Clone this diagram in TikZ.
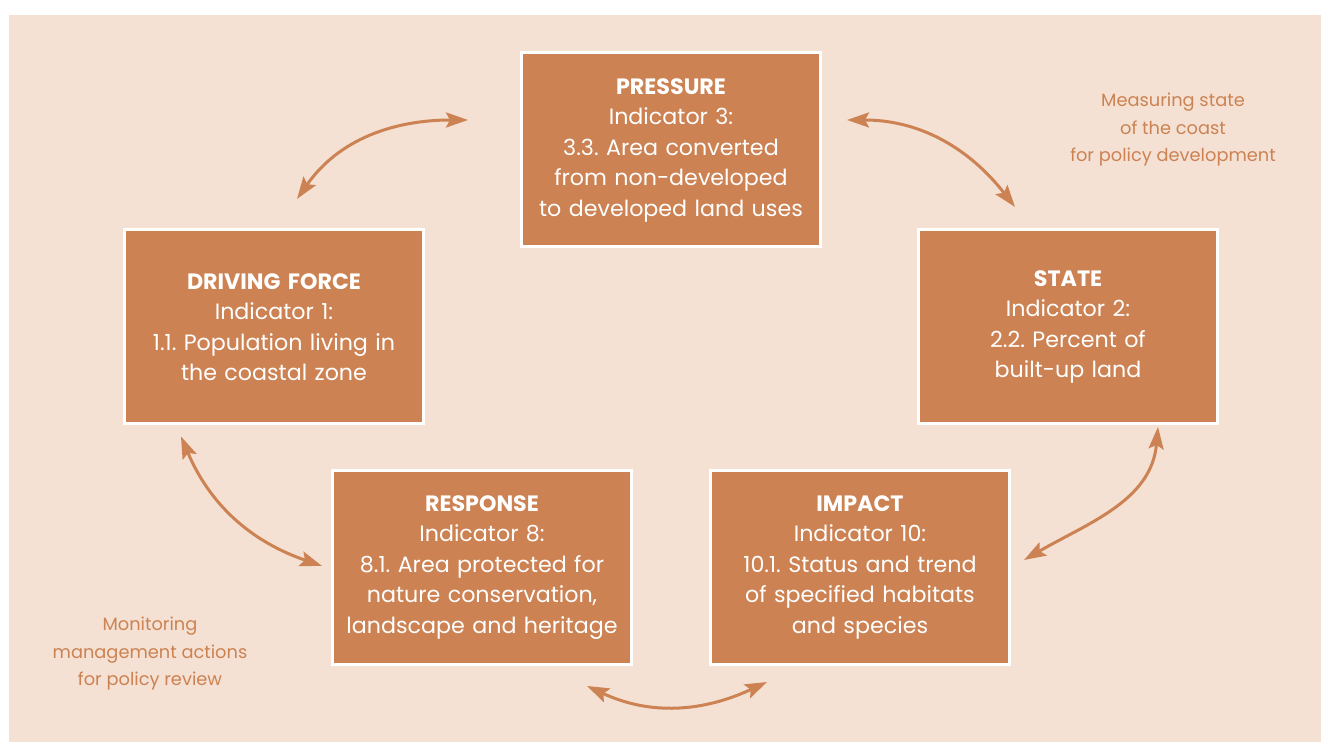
\documentclass[tikz,border=0pt]{standalone}
\usepackage{fontspec}
\setmainfont{Poppins}
\usetikzlibrary{positioning,arrows.meta}
\definecolor{clay}{RGB}{204,130,82}
\definecolor{sand}{RGB}{244,225,211}
\frenchspacing

\begin{document}
\begin{tikzpicture}[x=0.5pt,y=0.5pt]
        % Define styles for nodes and edges
        \tikzstyle{dpsir} = [rectangle, draw=white, line width=1.5pt, fill=clay, text=white, text width=149pt, align=center, minimum width=149.5pt, minimum height=97pt, inner sep=0pt, font=\fontsize{11.1}{15.25}\selectfont]
        \tikzstyle{remark} = [text=clay, align=center, font=\fontsize{8.9}{13.75}\selectfont]
        \tikzstyle{cyclearrow} = [draw=clay, line width=1.5pt, <->, >={Stealth[length=11pt,width=7.5pt,inset=2pt]}]

        % Background
        \useasboundingbox (0,0) rectangle (1321,742);
        \fill[sand] (9,0) rectangle (1321,727);

        % Nodes
        \node[dpsir] (pressure) at (671,592) {{\bfseries PRESSURE}\\Indicator 3:\\3.3. Area converted\\from non-developed\\to developed land uses};
        \node[dpsir] (driving) at (274,415) {{\bfseries DRIVING FORCE}\\Indicator 1:\\1.1. Population living in\\the coastal zone};
        \node[dpsir, right of=driving, node distance=397pt] (state) {{\bfseries STATE}\\Indicator 2:\\2.2. Percent of\\built-up land};
        \node[dpsir] (response) at (482,174.5) {{\bfseries RESPONSE}\\Indicator 8:\\8.1. Area protected for\\nature conservation,\\landscape and heritage};
        \node[dpsir, right of=response, node distance=189pt] (impact) {{\bfseries IMPACT}\\Indicator 10:\\10.1. Status and trend\\of specified habitats\\and species};

        % Arrows
        \draw[cyclearrow] ([shift={(23,29.5)}]driving.north) to[out=55,in=180] ([shift={(-52,30)}]pressure.west);
        \draw[cyclearrow] ([shift={(25,30)}]pressure.east) to[out=0,in=128] ([shift={(-53,21.5)}]state.north);
        \draw[cyclearrow] ([shift={(90,-1.5)}]state.south) to[out=-95,in=30] ([shift={(13,7.5)}]impact.east);
        \draw[cyclearrow] ([shift={(105,-20)}]response.south) to[out=-25,in=205] ([shift={(-93,-16)}]impact.south);
        \draw[cyclearrow] ([shift={(-93,-11)}]driving.south) to[out=-67,in=161] ([shift={(-9,1.5)}]response.west);

        % Side notes
        \node[remark] (measuring) at (1173,612) {Measuring state\\of the coast\\for policy development};
        \node[remark] (monitoring) at (150,88) {Monitoring\\management actions\\for policy review};
\end{tikzpicture}
\end{document}
